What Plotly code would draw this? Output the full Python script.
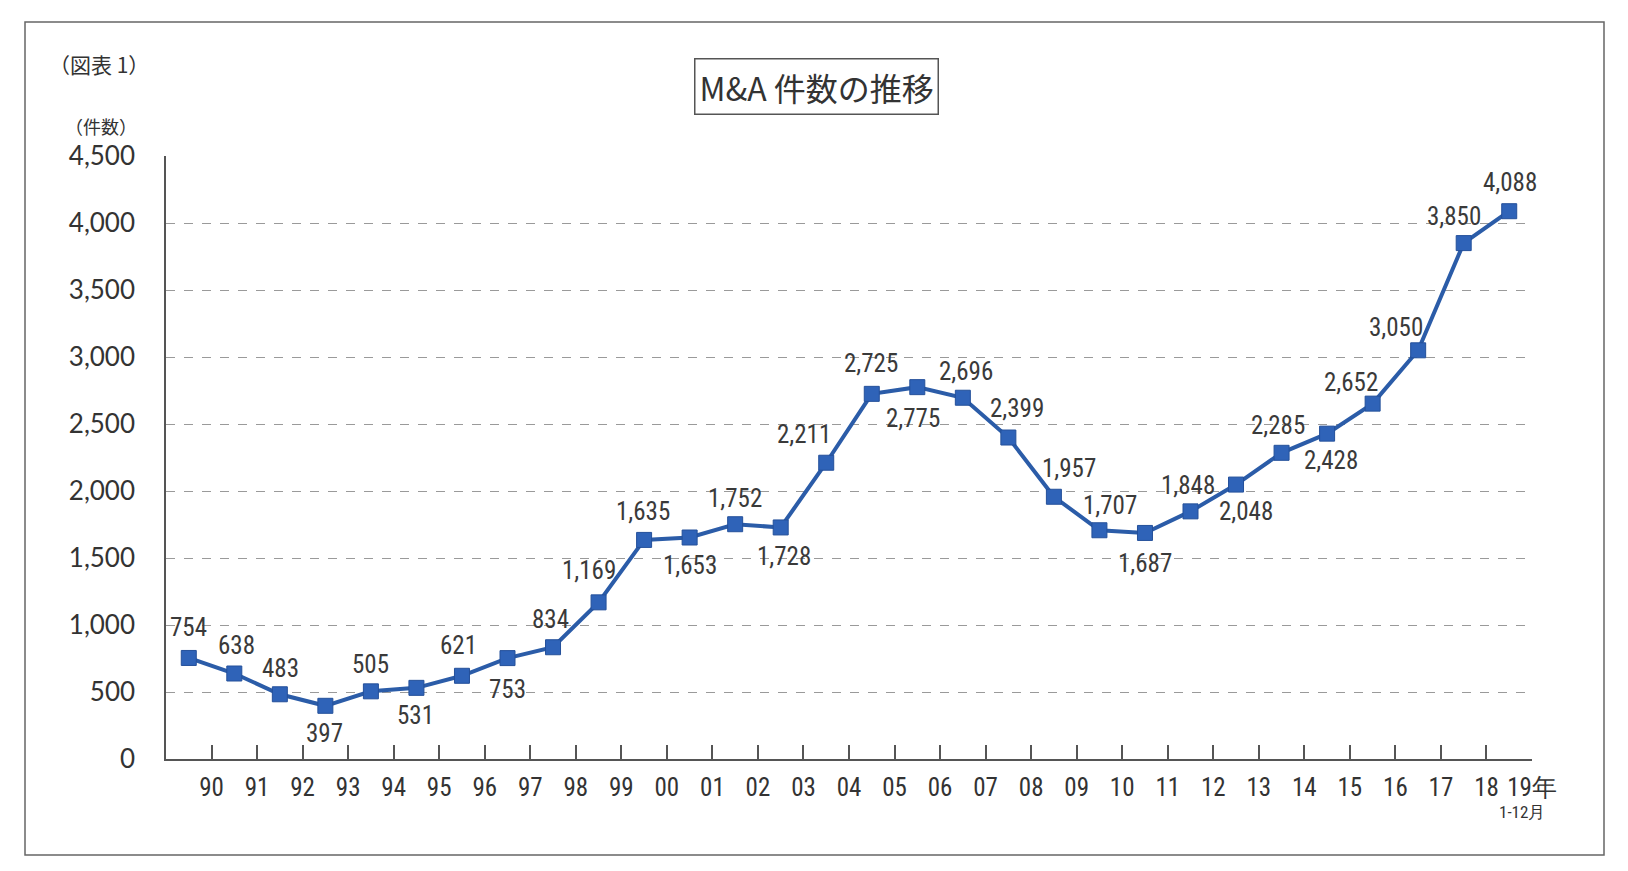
import plotly.graph_objects as go

# ---- data ----
years = ["90", "91", "92", "93", "94", "95", "96", "97", "98", "99",
         "00", "01", "02", "03", "04", "05", "06", "07", "08", "09",
         "10", "11", "12", "13", "14", "15", "16", "17", "18", "19"]
counts = [754, 638, 483, 397, 505, 531, 621, 753, 834, 1169,
          1635, 1653, 1752, 1728, 2211, 2725, 2775, 2696, 2399, 1957,
          1707, 1687, 1848, 2048, 2285, 2428, 2652, 3050, 3850, 4088]
tick_text = years[:-1] + ["19年"]
y_ticks = list(range(0, 4501, 500))

# ---- label placement (style): (xshift, yshift) per point ----
label_shift = [(0, 30), (2, 28), (1, 26), (-1, -28), (0, 27), (-1, -28), (-3, 30), (0, -31),
               (-3, 28), (-10, 32), (-1, 28), (0, -28), (0, 26), (3, -29), (-22, 28),
               (-1, 30), (-4, -31), (3, 26), (9, 29), (15, 28), (11, 25), (0, -31),
               (-3, 26), (10, -27), (-4, 27), (4, -27), (-22, 21), (-22, 23), (-10, 27), (1, 29)]

OFF = 8  # page body margin
W, H = 1628 - OFF, 871 - OFF
L, T = 166 - OFF, 156 - OFF
R = W - (1532 - OFF)
B = H - (759 - OFF)
PW, PH = W - L - R, H - T - B


def px(xs):
    return (xs - OFF - L) / PW


def py(ys):
    return (H - B - (ys - OFF)) / PH


LINE_BLUE = "#2b5ca8"
MARK_BLUE = "#2f63b8"
TXT = "#333333"
NARROW = "Liberation Sans Narrow, Arial Narrow, Roboto Condensed, Roboto, sans-serif"

fig = go.Figure()
fig.add_trace(go.Scatter(
    x=list(range(len(counts))), y=counts, mode="lines+markers",
    line=dict(color=LINE_BLUE, width=4),
    marker=dict(symbol="square", size=15, color=MARK_BLUE,
                line=dict(color="#24509a", width=1)),
    hoverinfo="skip", showlegend=False,
))

annotations = []
for i, v in enumerate(counts):
    xs, ys = label_shift[i]
    annotations.append(dict(
        x=i, y=v, xref="x", yref="y", text=f"{v:,}", showarrow=False,
        xanchor="center", yanchor="middle",
        xshift=xs, yshift=ys, font=dict(family=NARROW, size=25, color="#3a3a3a"),
    ))

annotations += [
    dict(x=px(816), y=py(87), xref="paper", yref="paper", text="M&amp;A 件数の推移",
         xanchor="center", yanchor="middle", showarrow=False,
         font=dict(family="Noto Sans CJK JP", size=32, color=TXT),
         bordercolor="#555555", borderwidth=1.5, borderpad=4, bgcolor="white"),
    dict(x=px(47), y=py(64), xref="paper", yref="paper", text="（図表 1）",
         xanchor="left", yanchor="middle", showarrow=False,
         font=dict(family="Noto Sans CJK JP", size=21, color=TXT)),
    dict(x=px(139), y=py(126), xref="paper", yref="paper", text="（件数）",
         xanchor="right", yanchor="middle", showarrow=False,
         font=dict(family="Noto Sans CJK JP", size=18, color=TXT)),
    dict(x=px(1522), y=py(812), xref="paper", yref="paper", text="1-12月",
         xanchor="center", yanchor="middle", showarrow=False,
         font=dict(family=NARROW, size=17, color=TXT)),
]

fig.update_layout(
    width=W, height=H,
    margin=dict(l=L, r=R, t=T, b=B),
    paper_bgcolor="white", plot_bgcolor="white",
    annotations=annotations,
    shapes=[dict(type="rect", xref="paper", yref="paper",
                 x0=px(25), x1=px(1604), y0=py(855), y1=py(22),
                 line=dict(color="#666666", width=1.5), layer="below")],
    xaxis=dict(
        range=[-0.5, 29.5], tickmode="array",
        tickvals=[i + 0.5 for i in range(len(tick_text))], ticktext=tick_text,
        ticks="inside", ticklen=14, tickwidth=1.5, tickcolor="#555555",
        showline=True, linecolor="#555555", linewidth=1.5,
        showgrid=False, zeroline=False, ticklabelstandoff=5,
        tickfont=dict(family=NARROW, size=25, color=TXT),
    ),
    yaxis=dict(
        range=[0, 4500], tickmode="array", tickvals=y_ticks,
        tickformat=",", ticks="", showline=True, linecolor="#555555", linewidth=1.5,
        showgrid=True, gridcolor="#9a9a9a", gridwidth=1, griddash="dash",
        zeroline=False, ticklabelstandoff=24,
        tickfont=dict(family="Lato, Noto Sans, sans-serif", size=26, color=TXT),
    ),
)

fig.write_html("out.html")
